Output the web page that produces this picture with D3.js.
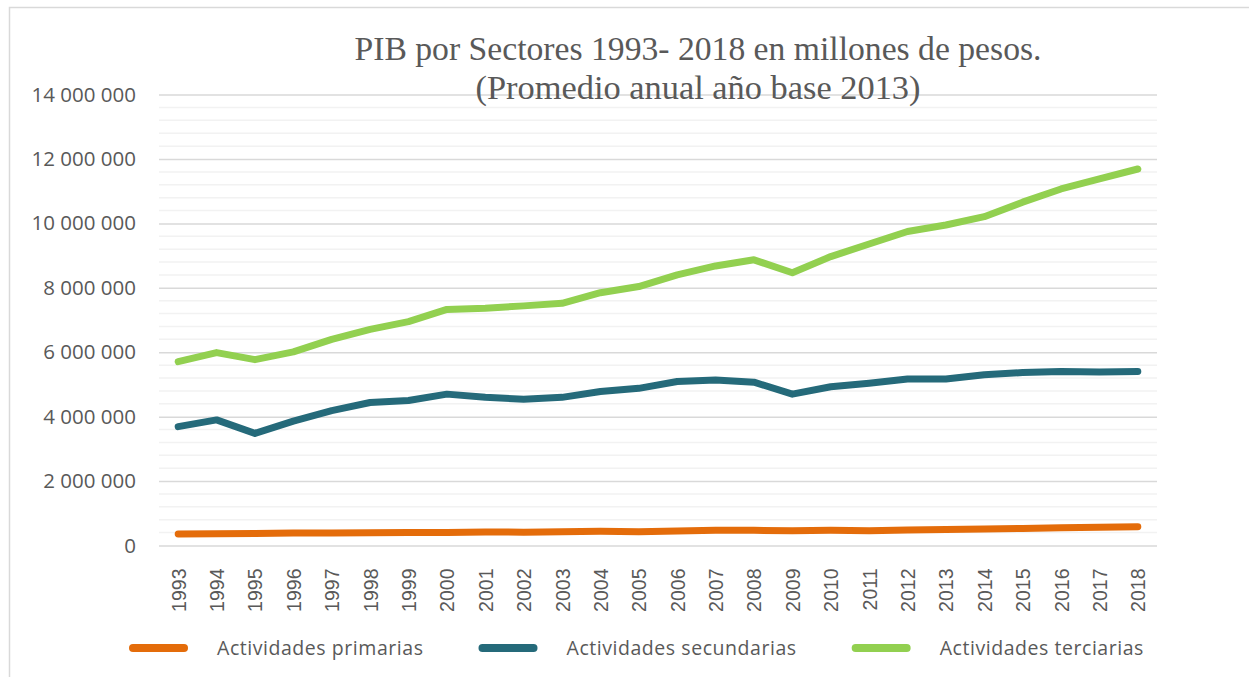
<!DOCTYPE html>
<html>
<head>
<meta charset="utf-8">
<script src="https://cdn.jsdelivr.net/npm/d3@7"></script>
<style>
  body { margin: 0; background: #fff; }
  svg { display: block; }
</style>
</head>
<body>
<div id="chart"></div>
<script>
// data
var years = ["1993","1994","1995","1996","1997","1998","1999","2000","2001","2002","2003","2004","2005",
             "2006","2007","2008","2009","2010","2011","2012","2013","2014","2015","2016","2017","2018"];

var primarias = [360000, 365000, 370000, 385000, 385000, 395000, 400000, 405000, 420000, 415000, 430000, 440000, 425000,
                 450000, 470000, 470000, 460000, 470000, 455000, 485000, 495000, 515000, 530000, 550000, 570000, 580000];

var secundarias = [3690000, 3900000, 3480000, 3860000, 4190000, 4440000, 4500000, 4700000, 4600000, 4540000, 4600000, 4780000, 4880000,
                   5090000, 5140000, 5070000, 4700000, 4930000, 5040000, 5170000, 5170000, 5300000, 5370000, 5400000, 5390000, 5400000];

var terciarias = [5710000, 5990000, 5770000, 6010000, 6400000, 6710000, 6950000, 7330000, 7370000, 7440000, 7520000, 7850000, 8040000,
                  8400000, 8680000, 8870000, 8470000, 8970000, 9360000, 9750000, 9950000, 10210000, 10660000, 11070000, 11380000, 11690000];

var seriesNames = ["Actividades primarias", "Actividades secundarias", "Actividades terciarias"];
var seriesColors = ["#E46C0A", "#256A7A", "#92D050"];

var majorTicks = [0, 2000000, 4000000, 6000000, 8000000, 10000000, 12000000, 14000000];

var titleLines = ["PIB por Sectores 1993- 2018 en millones de pesos.", "(Promedio anual año base 2013)"];

var W = 1249, H = 677;
var margin = {top: 94.6, right: 92, bottom: 131.5, left: 159};
var width = W - margin.left - margin.right,
    height = H - margin.top - margin.bottom;

var svg = d3.select("#chart")
    .append("svg")
    .attr("width", W)
    .attr("height", H);

// outer chart border
svg.append("rect")
    .attr("x", 9.5).attr("y", 7.5)
    .attr("width", W + 10).attr("height", H + 10)
    .attr("fill", "none")
    .attr("stroke", "#d9d9d9")
    .attr("stroke-width", 1.5);

var g = svg.append("g")
    .attr("transform", "translate(" + margin.left + "," + margin.top + ")");

var x = d3.scalePoint()
    .domain(years)
    .range([0, width])
    .padding(0.5);

var y = d3.scaleLinear()
    .domain([0, 14000000])
    .range([height, 0]);

// minor gridlines
g.append("g")
    .selectAll("line")
    .data(d3.range(0, 14000001, 400000).filter(function (v) { return v % 2000000 !== 0; }))
    .enter()
    .append("line")
    .attr("x1", 0).attr("x2", width)
    .attr("y1", function (d) { return y(d); })
    .attr("y2", function (d) { return y(d); })
    .attr("stroke", "#f2f2f2")
    .attr("stroke-width", 1.5);

// y axis with major gridlines
var fmt = d3.format(",");
var yAxis = g.append("g")
    .call(d3.axisLeft(y)
        .tickValues(majorTicks)
        .tickSize(-width)
        .tickPadding(23)
        .tickFormat(function (d) { return fmt(d).replace(/,/g, " "); }));
yAxis.select(".domain").remove();
yAxis.selectAll(".tick line")
    .attr("stroke", "#d9d9d9")
    .attr("stroke-width", 1.5);
yAxis.selectAll(".tick text")
    .attr("fill", "#595959")
    .style("font-family", "'Open Sans', sans-serif")
    .style("font-size", "20.5px");

// x axis labels, rotated
var xAxis = g.append("g")
    .attr("transform", "translate(0," + height + ")")
    .call(d3.axisBottom(x).tickSize(0));
xAxis.select(".domain").remove();
xAxis.selectAll(".tick text")
    .attr("fill", "#595959")
    .style("font-family", "'Liberation Sans', Arial, sans-serif")
    .style("font-size", "19.5px")
    .attr("transform", "rotate(-90)")
    .attr("text-anchor", "end")
    .attr("x", -23)
    .attr("y", 0)
    .attr("dy", "0.36em");

// lines
var allSeries = [primarias, secundarias, terciarias];
var line = d3.line()
    .x(function (d, i) { return x(years[i]); })
    .y(function (d) { return y(d); });

g.append("g")
    .selectAll("path")
    .data(allSeries)
    .enter()
    .append("path")
    .attr("d", line)
    .attr("fill", "none")
    .attr("stroke", function (d, i) { return seriesColors[i]; })
    .attr("stroke-width", 7)
    .attr("stroke-linecap", "round")
    .attr("stroke-linejoin", "round");

// title (Cambria in the original, stretched serif here)
var titleWidths = [687, 445];
svg.append("g")
    .selectAll("text")
    .data(titleLines)
    .enter()
    .append("text")
    .attr("x", 698)
    .attr("y", function (d, i) { return 60 + i * 39; })
    .attr("text-anchor", "middle")
    .attr("fill", "#595959")
    .attr("textLength", function (d, i) { return titleWidths[i]; })
    .attr("lengthAdjust", "spacingAndGlyphs")
    .style("font-family", "'Liberation Serif', 'DejaVu Serif', serif")
    .style("font-size", "33px")
    .text(function (d) { return d; });

// legend
var legend = svg.append("g").attr("transform", "translate(129,648)");
var cursor = 0;
seriesNames.forEach(function (name, i) {
    var item = legend.append("g").attr("transform", "translate(" + cursor + ",0)");
    item.append("line")
        .attr("x1", 4).attr("x2", 55)
        .attr("y1", 0).attr("y2", 0)
        .attr("stroke", seriesColors[i])
        .attr("stroke-width", 8)
        .attr("stroke-linecap", "round");
    var t = item.append("text")
        .attr("x", 88)
        .attr("y", 0)
        .attr("dy", "0.35em")
        .attr("fill", "#595959")
        .style("font-family", "'Open Sans', sans-serif")
        .style("font-size", "19.5px")
        .style("letter-spacing", "0.55px")
        .text(name);
    cursor += 88 + t.node().getComputedTextLength() + 55;
});
</script>
</body>
</html>
